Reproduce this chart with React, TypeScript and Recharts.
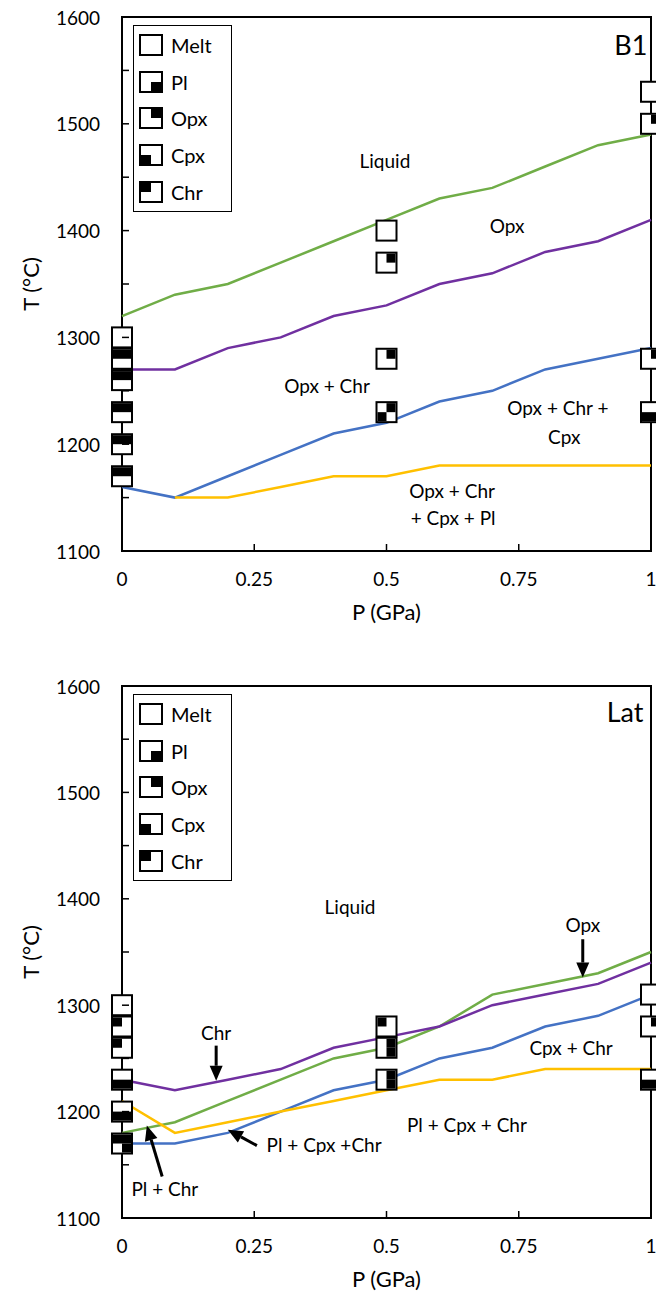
import React from "react";
import { ComposedChart, Line, Scatter, XAxis, YAxis, ReferenceArea, ReferenceLine, Legend, Label } from "recharts";

const FONT = "Lato, 'Open Sans', sans-serif";
const GREEN = "#70ad47";
const PURPLE = "#7030a0";
const BLUE = "#4472c4";
const YELLOW = "#ffc000";

const P_TICKS = [0, 0.25, 0.5, 0.75, 1];
const T_TICKS = [1100, 1150, 1200, 1250, 1300, 1350, 1400, 1450, 1500, 1550, 1600];
const PHASES = ["Melt", "Pl", "Opx", "Cpx", "Chr"];

// pressure steps shared by the boundary curves
const P_STEPS = [0, 0.1, 0.2, 0.3, 0.4, 0.5, 0.6, 0.7, 0.8, 0.9, 1];

// B1
const B1_LIQ = [1320, 1340, 1350, 1370, 1390, 1410, 1430, 1440, 1460, 1480, 1490];
const B1_OPX = [1270, 1270, 1290, 1300, 1320, 1330, 1350, 1360, 1380, 1390, 1410];
const B1_CPX = [1160, 1150, 1170, 1190, 1210, 1220, 1240, 1250, 1270, 1280, 1290];
const B1_PL_P = [0.1, 0.2, 0.3, 0.4, 0.5, 0.6, 0.7, 0.8, 0.9, 1];
const B1_PL = [1150, 1150, 1160, 1170, 1170, 1180, 1180, 1180, 1180, 1180];

const B1_RUNS = [
  { p: 0, t: 1300, ph: [] },
  { p: 0, t: 1280, ph: ["Chr", "Opx"] },
  { p: 0, t: 1260, ph: ["Chr", "Opx"] },
  { p: 0, t: 1230, ph: ["Chr", "Opx"] },
  { p: 0, t: 1200, ph: ["Chr", "Opx"] },
  { p: 0, t: 1170, ph: ["Chr", "Opx"] },
  { p: 0.5, t: 1400, ph: [] },
  { p: 0.5, t: 1370, ph: ["Opx"] },
  { p: 0.5, t: 1280, ph: ["Opx"] },
  { p: 0.5, t: 1230, ph: ["Opx", "Cpx"] },
  { p: 1, t: 1530, ph: [] },
  { p: 1, t: 1500, ph: ["Opx"] },
  { p: 1, t: 1280, ph: ["Opx"] },
  { p: 1, t: 1230, ph: ["Cpx", "Pl"] },
];

const B1_FIELDS = [
  { p: 0.497, t: 1466, text: "Liquid" },
  { p: 0.728, t: 1405, text: "Opx" },
  { p: 0.3875, t: 1255, text: "Opx + Chr" },
  { p: 0.824, t: 1234, text: "Opx + Chr +" },
  { p: 0.836, t: 1207, text: "Cpx" },
  { p: 0.624, t: 1157, text: "Opx + Chr" },
  { p: 0.626, t: 1131, text: "+ Cpx + Pl" },
];

// Lat
const LAT_LIQ = [1180, 1190, 1210, 1230, 1250, 1260, 1280, 1310, 1320, 1330, 1350];
const LAT_OPX = [1230, 1220, 1230, 1240, 1260, 1270, 1280, 1300, 1310, 1320, 1340];
const LAT_CPX = [1170, 1170, 1180, 1200, 1220, 1230, 1250, 1260, 1280, 1290, 1310];
const LAT_PL = [1210, 1180, 1190, 1200, 1210, 1220, 1230, 1230, 1240, 1240, 1240];

const LAT_RUNS = [
  { p: 0, t: 1300, ph: [] },
  { p: 0, t: 1280, ph: ["Chr"] },
  { p: 0, t: 1260, ph: ["Chr"] },
  { p: 0, t: 1230, ph: ["Cpx", "Pl"] },
  { p: 0, t: 1200, ph: ["Cpx", "Pl"] },
  { p: 0, t: 1170, ph: ["Chr", "Opx", "Pl"] },
  { p: 0.5, t: 1280, ph: ["Chr"] },
  { p: 0.5, t: 1260, ph: ["Opx", "Pl"] },
  { p: 0.5, t: 1230, ph: ["Opx", "Pl"] },
  { p: 1, t: 1310, ph: [] },
  { p: 1, t: 1280, ph: ["Opx"] },
  { p: 1, t: 1230, ph: ["Cpx", "Pl"] },
];

const LAT_FIELDS = [
  { p: 0.431, t: 1393, text: "Liquid" },
  { p: 0.871, t: 1376, text: "Opx" },
  { p: 0.178, t: 1274, text: "Chr" },
  { p: 0.849, t: 1260, text: "Cpx + Chr" },
  { p: 0.652, t: 1188, text: "Pl + Cpx + Chr" },
  { p: 0.382, t: 1169, text: "Pl + Cpx +Chr" },
  { p: 0.081, t: 1128, text: "Pl + Chr" },
];

// arrows: tail -> tip
const LAT_ARROWS = [
  { from: [0.871, 1362], to: [0.871, 1326] },
  { from: [0.178, 1262], to: [0.178, 1229] },
  { from: [0.255, 1168], to: [0.2, 1183] },
  { from: [0.076, 1139], to: [0.047, 1187] },
];

const zip = (ps: number[], ts: number[]) => ps.map((p, i) => ({ p, t: ts[i] }));

const QUAD: Record<string, [number, number]> = { Chr: [-1, -1], Opx: [0, -1], Cpx: [-1, 0], Pl: [0, 0] };

function RunBox({ cx, cy, ph, w = 20, h = 20 }: any) {
  const hw = w / 2 - 1;
  const hh = h / 2 - 1;
  return (
    <g>
      <rect x={cx - w / 2} y={cy - h / 2} width={w} height={h} fill="#fff" stroke="#000" strokeWidth={2} />
      {ph.map((k: string) => {
        const [qx, qy] = QUAD[k];
        return <rect key={k} x={qx < 0 ? cx - hw : cx} y={qy < 0 ? cy - hh : cy} width={hw} height={hh} fill="#000" />;
      })}
    </g>
  );
}

const runShape = (props: any) => <RunBox cx={props.cx} cy={props.cy} ph={props.payload.ph} />;

const fieldShape = (props: any) => (
  <text x={props.cx} y={props.cy} textAnchor="middle" dominantBaseline="central" fontSize={19} fontFamily={FONT} fill="#000">
    {props.payload.text}
  </text>
);

const arrowShape = (props: any) => {
  const { x1, y1, x2, y2 } = props;
  const a = Math.atan2(y2 - y1, x2 - x1);
  const L = 15;
  const W = 6.5;
  const bx = x2 - L * Math.cos(a);
  const by = y2 - L * Math.sin(a);
  const pts = `${x2},${y2} ${bx + W * Math.sin(a)},${by - W * Math.cos(a)} ${bx - W * Math.sin(a)},${by + W * Math.cos(a)}`;
  return (
    <g>
      <line x1={x1} y1={y1} x2={bx} y2={by} stroke="#000" strokeWidth={3} />
      <polygon points={pts} fill="#000" />
    </g>
  );
};

const XTick = (props: any) => {
  const { x, y, payload } = props;
  return (
    <g>
      <line x1={x} x2={x} y1={y} y2={y - 7} stroke="#000" strokeWidth={1.5} />
      <text x={x} y={y + 27} textAnchor="middle" dominantBaseline="central" fontSize={19} fontFamily={FONT} fill="#000">
        {payload.value}
      </text>
    </g>
  );
};

const YTick = (props: any) => {
  const { x, y, payload } = props;
  return (
    <g>
      <line x1={x} x2={x + 7} y1={y} y2={y} stroke="#000" strokeWidth={1.5} />
      {payload.value % 100 === 0 && (
        <text x={x - 22} y={y} textAnchor="end" dominantBaseline="central" fontSize={19} fontFamily={FONT} fill="#000">
          {payload.value}
        </text>
      )}
    </g>
  );
};

function PhaseLegend() {
  return (
    <div style={{ border: "1.5px solid #000", width: 97, padding: "1px 0", background: "#fff", fontFamily: FONT }}>
      {PHASES.map((name) => (
        <div key={name} style={{ height: 36.6, display: "flex", alignItems: "center" }}>
          <svg width={34} height={24} style={{ flex: "none" }}>
            <RunBox cx={17} cy={12} ph={name === "Melt" ? [] : [name]} w={22} h={20} />
          </svg>
          <span style={{ fontSize: 20, marginLeft: 3 }}>{name}</span>
        </div>
      ))}
    </div>
  );
}

function PhaseChart({ liq, opx, cpx, pl, runs, fields, arrows, tag, top, height, margin }: any) {
  return (
    <div style={{ position: "absolute", left: 0, top }}>
      <ComposedChart width={700} height={height} margin={margin}>
        <XAxis
          dataKey="p"
          type="number"
          domain={[0, 1]}
          ticks={P_TICKS}
          tickSize={0}
          tickMargin={0}
          tick={XTick}
          axisLine={false}
          height={60}
          allowDecimals
        >
          <Label
            content={({ viewBox }: any) => (
              <text x={viewBox.x + viewBox.width / 2} y={viewBox.y + 60} textAnchor="middle" dominantBaseline="central" fontSize={22} fontFamily={FONT} fill="#000">
                P (GPa)
              </text>
            )}
          />
        </XAxis>
        <YAxis
          dataKey="t"
          type="number"
          domain={[1100, 1600]}
          ticks={T_TICKS}
          tickSize={0}
          tickMargin={0}
          tick={YTick}
          axisLine={false}
          width={110}
          interval={0}
        >
          <Label
            content={({ viewBox }: any) => {
              const x = viewBox.x + 18;
              const y = viewBox.y + viewBox.height / 2;
              return (
                <text x={x} y={y} transform={`rotate(-90 ${x} ${y})`} textAnchor="middle" dominantBaseline="central" fontSize={22} fontFamily={FONT} fill="#000">
                  T (°C)
                </text>
              );
            }}
          />
        </YAxis>
        <ReferenceArea x1={0} x2={1} y1={1100} y2={1600} fill="none" stroke="#000" strokeWidth={2} />
        <Line data={liq} dataKey="t" stroke={GREEN} strokeWidth={2.5} dot={false} isAnimationActive={false} />
        <Line data={opx} dataKey="t" stroke={PURPLE} strokeWidth={2.5} dot={false} isAnimationActive={false} />
        <Line data={cpx} dataKey="t" stroke={BLUE} strokeWidth={2.5} dot={false} isAnimationActive={false} />
        <Line data={pl} dataKey="t" stroke={YELLOW} strokeWidth={2.5} dot={false} isAnimationActive={false} />
        {arrows.map((a: any, i: number) => (
          <ReferenceLine
            key={i}
            segment={[{ x: a.from[0], y: a.from[1] }, { x: a.to[0], y: a.to[1] }]}
            shape={arrowShape}
          />
        ))}
        <Scatter data={fields} shape={fieldShape} isAnimationActive={false} />
        <Scatter data={[tag]} isAnimationActive={false} shape={(p: any) => (
          <text x={p.cx} y={p.cy} textAnchor="middle" dominantBaseline="central" fontSize={27} fontFamily={FONT} fill="#000">
            {p.payload.text}
          </text>
        )} />
        <Scatter data={runs} shape={runShape} isAnimationActive={false} />
        <Legend
          layout="vertical"
          align="center"
          verticalAlign="middle"
          content={() => <PhaseLegend />}
          wrapperStyle={{ left: 133, top: margin.top + 8, width: "auto", height: "auto" }}
        />
      </ComposedChart>
    </div>
  );
}

export default function App() {
  return (
    <div style={{ position: "fixed", left: 0, top: 0, width: 656, height: 1294, overflow: "hidden", background: "#fff" }}>
      <PhaseChart
        liq={zip(P_STEPS, B1_LIQ)}
        opx={zip(P_STEPS, B1_OPX)}
        cpx={zip(P_STEPS, B1_CPX)}
        pl={zip(B1_PL_P, B1_PL)}
        runs={B1_RUNS}
        fields={B1_FIELDS}
        arrows={[]}
        tag={{ p: 0.962, t: 1574, text: "B1" }}
        top={0}
        height={640}
        margin={{ top: 17, right: 49, left: 12, bottom: 29 }}
      />
      <PhaseChart
        liq={zip(P_STEPS, LAT_LIQ)}
        opx={zip(P_STEPS, LAT_OPX)}
        cpx={zip(P_STEPS, LAT_CPX)}
        pl={zip(P_STEPS, LAT_PL)}
        runs={LAT_RUNS}
        fields={LAT_FIELDS}
        arrows={LAT_ARROWS}
        tag={{ p: 0.951, t: 1576, text: "Lat" }}
        top={640}
        height={654}
        margin={{ top: 46, right: 49, left: 12, bottom: 16 }}
      />
    </div>
  );
}
